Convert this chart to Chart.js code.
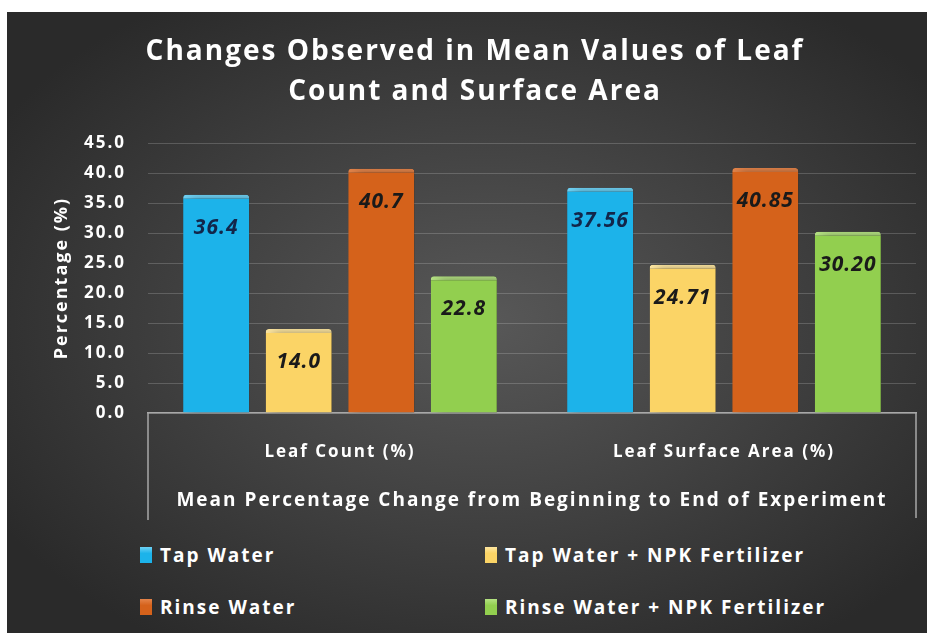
<!DOCTYPE html>
<html>
<head>
<meta charset="utf-8">
<script src="https://cdn.jsdelivr.net/npm/chart.js@4.4.1/dist/chart.umd.min.js"></script>
<style>
  html, body { margin: 0; padding: 0; background: #fff; }
  #wrap {
    position: absolute; left: 7px; top: 12px; width: 920px; height: 621px; overflow: hidden;
    background: radial-gradient(ellipse 62% 62% at 52% 50%, #585858 0%, #3f3f3f 55%, #2a2a2a 100%);
  }
  #chartBox { position: absolute; left: 0; top: 0; width: 920px; height: 520px; }
  .legend-item {
    position: absolute; display: flex; align-items: center; height: 24px;
    font: bold 19px "Open Sans", sans-serif; color: #fff; letter-spacing: 2px; white-space: nowrap;
  }
  .legend-item .swatch { width: 12px; height: 16px; margin-right: 8px; }
</style>
</head>
<body>
<div id="wrap">
  <div id="chartBox"><canvas id="chart"></canvas></div>
  <div id="legend"></div>
</div>
<script>
// data
const categories = ['Leaf Count (%)', 'Leaf Surface Area (%)'];
const seriesNames = ['Tap Water', 'Tap Water + NPK Fertilizer', 'Rinse Water', 'Rinse Water + NPK Fertilizer'];
const tapWater = [36.4, 37.56];
const tapWaterNpk = [14.0, 24.71];
const rinseWater = [40.7, 40.85];
const rinseWaterNpk = [22.8, 30.20];
const labelDecimals = [1, 2]; // leaf count shown with 1 decimal, surface area with 2

// styles
const fills = ['#1cb3ea', '#fbd466', '#d5621b', '#92cf4f'];
const bevels = ['#6fd2f5', '#fde6a0', '#e4844a', '#b5e283'];
const labelColors = ['#12264a', '#1a1a1a', '#1a1a1a', '#1a1a1a'];
const font = 'Open Sans';

const seriesValues = [tapWater, tapWaterNpk, rinseWater, rinseWaterNpk];

// spread text a little like the original
const spacing = {
  id: 'spacing',
  beforeDraw(chart) { chart.ctx.letterSpacing = '2px'; }
};

const barShadow = {
  id: 'barShadow',
  beforeDatasetsDraw(chart) {
    const c = chart.ctx;
    c.save();
    c.shadowColor = 'rgba(0,0,0,0.55)';
    c.shadowBlur = 10;
    c.shadowOffsetX = 7;
    c.shadowOffsetY = 2;
  },
  afterDatasetsDraw(chart) { chart.ctx.restore(); }
};

const valueLabels = {
  id: 'valueLabels',
  afterDatasetsDraw(chart) {
    const c = chart.ctx;
    c.save();
    c.font = 'italic bold 21px "' + font + '"';
    c.letterSpacing = '1px';
    c.textAlign = 'center';
    c.textBaseline = 'middle';
    chart.data.datasets.forEach((ds, i) => {
      c.fillStyle = labelColors[i];
      chart.getDatasetMeta(i).data.forEach((bar, j) => {
        c.fillText(ds.data[j].toFixed(labelDecimals[j]), bar.x, bar.y + 33);
      });
    });
    c.restore();
  }
};

// the box lines around the category labels
const categoryFrame = {
  id: 'categoryFrame',
  afterDraw(chart) {
    const x = chart.scales.x, c = chart.ctx, b = chart.chartArea.bottom;
    c.save();
    c.strokeStyle = '#a8a8a8';
    c.lineWidth = 1.5;
    c.beginPath();
    c.moveTo(x.left, b); c.lineTo(x.left, b + 107);
    c.moveTo(x.right, b); c.lineTo(x.right, b + 105);
    c.stroke();
    c.restore();
  }
};

const chart = new Chart(document.getElementById('chart'), {
  type: 'bar',
  data: {
    labels: categories,
    datasets: seriesNames.map((name, i) => ({
      label: name,
      data: seriesValues[i],
      backgroundColor: fills[i],
      borderColor: bevels[i],
      borderWidth: { top: 4, left: 0, right: 0, bottom: 0 },
      borderSkipped: false,
      borderRadius: { topLeft: 3, topRight: 3 },
      barPercentage: 0.8,
      categoryPercentage: 0.86
    }))
  },
  options: {
    responsive: true,
    maintainAspectRatio: false,
    animation: false,
    layout: { padding: { left: 27, right: 11, top: 0, bottom: 2 } },
    plugins: {
      legend: { display: false },
      tooltip: { enabled: false },
      title: {
        display: true,
        text: ['Changes Observed in Mean Values of Leaf', 'Count and Surface Area'],
        color: '#fff',
        font: { family: font, size: 28, weight: 'bold', lineHeight: 1.43 },
        padding: { top: 20, bottom: 31 }
      }
    },
    scales: {
      x: {
        grid: { display: false, drawTicks: false },
        border: { display: true, color: '#a8a8a8', width: 1.5 },
        ticks: { color: '#fff', font: { family: font, size: 17, weight: 'bold' }, padding: 29, maxRotation: 0 },
        title: {
          display: true,
          text: 'Mean Percentage Change from Beginning to End of Experiment',
          color: '#fff',
          font: { family: font, size: 19, weight: 'bold' },
          padding: { top: 0, bottom: 18 }
        },
        afterFit(s) { s.height = 117; }
      },
      y: {
        min: 0,
        max: 45,
        ticks: {
          stepSize: 5,
          color: '#fff',
          font: { family: font, size: 17, weight: 'bold' },
          padding: 22,
          callback: v => v.toFixed(1)
        },
        grid: { color: 'rgba(255,255,255,0.18)', drawTicks: false },
        border: { display: false },
        title: {
          display: true,
          text: 'Percentage (%)',
          color: '#fff',
          font: { family: font, size: 18, weight: 'bold' },
          padding: { top: 17, bottom: 0 }
        },
        afterFit(s) { s.width = 114; }
      }
    }
  },
  plugins: [spacing, barShadow, valueLabels, categoryFrame]
});

// legend as a 2x2 grid under the chart
const legendPos = [[133, 531], [478, 531], [133, 583], [478, 583]];
const legend = document.getElementById('legend');
chart.data.datasets.forEach((ds, i) => {
  const item = document.createElement('div');
  item.className = 'legend-item';
  item.style.left = legendPos[i][0] + 'px';
  item.style.top = legendPos[i][1] + 'px';
  item.innerHTML = '<span class="swatch" style="background:linear-gradient(' + bevels[i] + ',' + fills[i] + ' 40%,' + fills[i] + ')"></span>';
  item.appendChild(document.createTextNode(ds.label));
  legend.appendChild(item);
});
</script>
</body>
</html>
